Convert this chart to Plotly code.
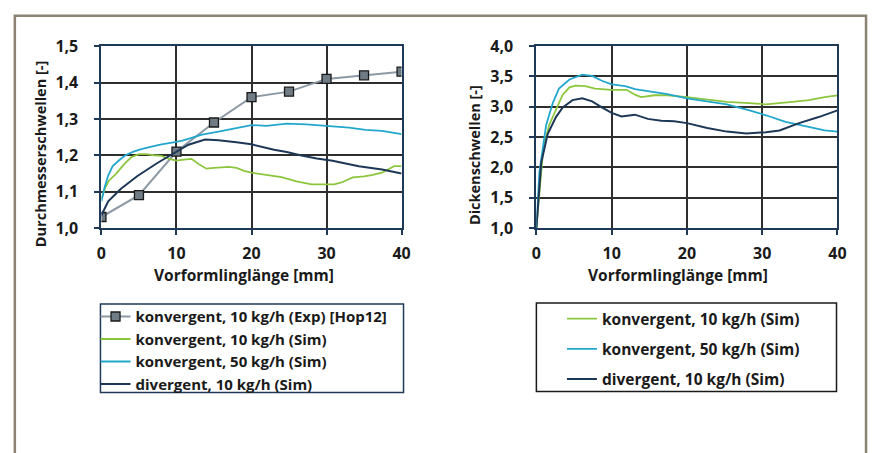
import plotly.graph_objects as go

# ---------------- data ----------------
exp_x = [0, 5, 10, 15, 20, 25, 30, 35, 40]
exp_y = [1.03, 1.09, 1.21, 1.29, 1.36, 1.375, 1.41, 1.42, 1.43]

d_k10_x = [0, 0.5, 1, 2, 3, 4, 5, 6, 7, 8, 9, 10, 11, 12, 13, 14, 15, 16, 17, 18, 19, 20,
           22, 23, 24, 26, 28, 30, 31, 32, 33.5, 35, 36, 37.4, 39, 40]
d_k10_y = [1.08, 1.11, 1.13, 1.15, 1.175, 1.195, 1.203, 1.203, 1.2, 1.198, 1.19, 1.185,
           1.188, 1.19, 1.175, 1.163, 1.165, 1.166, 1.168, 1.165, 1.157, 1.152,
           1.145, 1.143, 1.14, 1.128, 1.12, 1.12, 1.12, 1.125, 1.139, 1.142, 1.145, 1.152, 1.17, 1.17]

d_k50_x = [0, 0.4, 0.9, 1.5, 2.4, 3.2, 4.2, 5.2, 6.4, 8, 10, 10.8, 12, 13.4, 15.6, 17.8, 20,
           22, 24.7, 27.3, 30, 33, 35.2, 37.4, 40]
d_k50_y = [1.073, 1.11, 1.144, 1.17, 1.187, 1.2, 1.209, 1.216, 1.222, 1.23, 1.237, 1.24, 1.248,
           1.257, 1.265, 1.274, 1.283, 1.281, 1.287, 1.285, 1.281, 1.276, 1.27, 1.267, 1.258]

d_div_x = [0, 0.9, 2.6, 4.8, 7.4, 10, 11.6, 13.8, 15.6, 18, 20, 23, 24.7, 26.5, 28.7, 30.8,
           32.5, 34.3, 37.4, 40]
d_div_y = [1.035, 1.073, 1.108, 1.143, 1.178, 1.209, 1.229, 1.243, 1.241, 1.236, 1.23, 1.215,
           1.209, 1.2, 1.191, 1.185, 1.177, 1.17, 1.161, 1.15]

t_k10_x = [0, 0.9, 1.7, 2.6, 3.5, 4.4, 5.2, 6.5, 7.8, 10, 12, 13.1, 13.9, 15.7, 17.4, 20,
           22.7, 25.3, 28.3, 30.5, 34, 36.2, 38.3, 40]
t_k10_y = [1.0, 2.29, 2.7, 2.96, 3.2, 3.32, 3.35, 3.34, 3.3, 3.28, 3.28, 3.2, 3.16, 3.19, 3.19,
           3.16, 3.12, 3.08, 3.06, 3.04, 3.08, 3.11, 3.16, 3.19]

t_k50_x = [0, 0.4, 1.3, 2.2, 3, 4.4, 6.1, 7.4, 8.7, 10, 11.8, 13.1, 14.8, 17.4, 20, 22.7,
           25.3, 28.3, 30.5, 33.1, 35.7, 38.3, 40]
t_k50_y = [1.0, 1.92, 2.7, 3.07, 3.3, 3.45, 3.53, 3.51, 3.43, 3.37, 3.34, 3.29, 3.26, 3.21,
           3.14, 3.09, 3.04, 2.94, 2.86, 2.75, 2.68, 2.61, 2.59]

t_div_x = [0, 0.65, 1.5, 2.6, 3.5, 4.8, 6.1, 7.4, 8.7, 10, 11.3, 13.1, 14.8, 16.6, 18.3, 20,
           22.7, 25.3, 27.9, 30.5, 32.3, 34.9, 37.5, 40]
t_div_y = [1.0, 2.08, 2.55, 2.83, 2.99, 3.11, 3.14, 3.09, 2.99, 2.9, 2.84, 2.87, 2.8, 2.77,
           2.76, 2.73, 2.65, 2.59, 2.56, 2.58, 2.61, 2.73, 2.83, 2.94]

names = ["konvergent, 10 kg/h (Exp) [Hop12]", "konvergent, 10 kg/h (Sim)",
         "konvergent, 50 kg/h (Sim)", "divergent, 10 kg/h (Sim)"]
x_title = "Vorformlinglänge [mm]"
y1_title = "Durchmesserschwellen [-]"
y2_title = "Dickenschwellen [-]"
x_ticks = [0, 10, 20, 30, 40]
y1_ticks = [1.0, 1.1, 1.2, 1.3, 1.4, 1.5]
y2_ticks = [1.0, 1.5, 2.0, 2.5, 3.0, 3.5, 4.0]

# ---------------- layout helpers ----------------
W, H = 877, 453


def fx(px):
    return px / W


def fy(py):
    return 1 - py / H


FONT = "Open Sans"
C_GREEN = "#8cc63e"
C_CYAN = "#22a7cc"
C_NAVY = "#1d3857"
C_EXP = "#8d9aa6"
C_GRID = "#2e2e2e"
C_AXIS = "#1e3a56"
C_TEXT = "#1a1a1a"

fig = go.Figure()

# left chart
fig.add_trace(go.Scatter(x=exp_x, y=exp_y, name=names[0], mode="lines+markers",
                         line=dict(color=C_EXP, width=2),
                         marker=dict(symbol="square", size=9, color="#6f7c86",
                                     line=dict(color="#1a1a1a", width=1.3)),
                         xaxis="x", yaxis="y", legend="legend"))
fig.add_trace(go.Scatter(x=d_k10_x, y=d_k10_y, name=names[1], mode="lines",
                         line=dict(color=C_GREEN, width=1.8), xaxis="x", yaxis="y", legend="legend"))
fig.add_trace(go.Scatter(x=d_k50_x, y=d_k50_y, name=names[2], mode="lines",
                         line=dict(color=C_CYAN, width=1.8), xaxis="x", yaxis="y", legend="legend"))
fig.add_trace(go.Scatter(x=d_div_x, y=d_div_y, name=names[3], mode="lines",
                         line=dict(color=C_NAVY, width=2), xaxis="x", yaxis="y", legend="legend"))

# right chart
for xs, ys, nm, col, wd in [(t_k10_x, t_k10_y, names[1], C_GREEN, 1.8),
                            (t_k50_x, t_k50_y, names[2], C_CYAN, 1.8),
                            (t_div_x, t_div_y, names[3], C_NAVY, 2)]:
    fig.add_trace(go.Scatter(x=xs, y=ys, name=nm, mode="lines", line=dict(color=col, width=wd),
                             xaxis="x2", yaxis="y2", legend="legend2", legendgroup=nm))

tick_font = dict(family=FONT, size=16, color=C_TEXT, weight="bold")
xtitle_font = dict(family=FONT, size=15.5, color=C_TEXT, weight="bold")
ytitle_font = dict(family=FONT, size=14.5, color=C_TEXT, weight="bold")
axis_common = dict(showgrid=True, gridcolor=C_GRID, gridwidth=1.5, showline=True,
                   linecolor=C_AXIS, linewidth=2, mirror=True, ticks="outside",
                   ticklen=5, tickcolor=C_AXIS, tickwidth=2, zeroline=False,
                   tickfont=tick_font)

fig.update_layout(
    width=W, height=H, margin=dict(l=0, r=0, t=0, b=0),
    paper_bgcolor="white", plot_bgcolor="white",
    separators=",.",
    showlegend=True,
    xaxis=dict(domain=[fx(98), fx(403)], range=[0, 40], tickvals=x_ticks,
               anchor="y", ticklabelstandoff=5, **axis_common),
    yaxis=dict(domain=[fy(228), fy(37)], range=[1.0, 1.5], tickvals=y1_ticks, tickformat=".1f",
               anchor="x", ticklabelstandoff=13, **axis_common),
    xaxis2=dict(domain=[fx(540), fx(846)], range=[0, 40], tickvals=x_ticks,
                anchor="y2", ticklabelstandoff=5, **axis_common),
    yaxis2=dict(domain=[fy(228), fy(37)], range=[1.0, 4.0], tickvals=y2_ticks, tickformat=".1f",
                anchor="x2", ticklabelstandoff=13, **axis_common),
    legend=dict(x=fx(92), y=fy(304), xanchor="left", yanchor="top",
                bgcolor="rgba(0,0,0,0)", borderwidth=0, tracegroupgap=0,
                font=dict(family=FONT, size=15, color=C_TEXT, weight="bold")),
    legend2=dict(x=fx(566), y=fy(306), xanchor="left", yanchor="top",
                 bgcolor="rgba(0,0,0,0)", borderwidth=0, tracegroupgap=7,
                 font=dict(family=FONT, size=15.5, color=C_TEXT, weight="bold")),
    annotations=[
        dict(text=x_title, xref="paper", yref="paper", x=fx(243), y=fy(277),
             xanchor="center", yanchor="middle", showarrow=False, font=xtitle_font),
        dict(text=x_title, xref="paper", yref="paper", x=fx(684), y=fy(277),
             xanchor="center", yanchor="middle", showarrow=False, font=xtitle_font),
        dict(text=y1_title, xref="paper", yref="paper", x=fx(36), y=fy(150),
             xanchor="center", yanchor="middle", showarrow=False, textangle=-90,
             font=ytitle_font),
        dict(text=y2_title, xref="paper", yref="paper", x=fx(477), y=fy(151),
             xanchor="center", yanchor="middle", showarrow=False, textangle=-90,
             font=ytitle_font),
    ],
    shapes=[
        dict(type="rect", xref="paper", yref="paper", x0=fx(10), x1=fx(875),
             y0=-0.05, y1=fy(5), line=dict(color="#8b8472", width=2.5)),
        dict(type="rect", xref="paper", yref="paper", x0=fx(97), x1=fx(405),
             y0=fy(401), y1=fy(308), line=dict(color="#1e3a56", width=1.5)),
        dict(type="rect", xref="paper", yref="paper", x0=fx(540), x1=fx(845),
             y0=fy(400), y1=fy(307), line=dict(color="#1a1a1a", width=1.5)),
    ],
)

# place the figure at the page origin (no default body margin)
fig.write_html("out.html", config={"displayModeBar": False},
               post_script="document.body.style.margin='0';document.body.style.overflow='hidden';")
